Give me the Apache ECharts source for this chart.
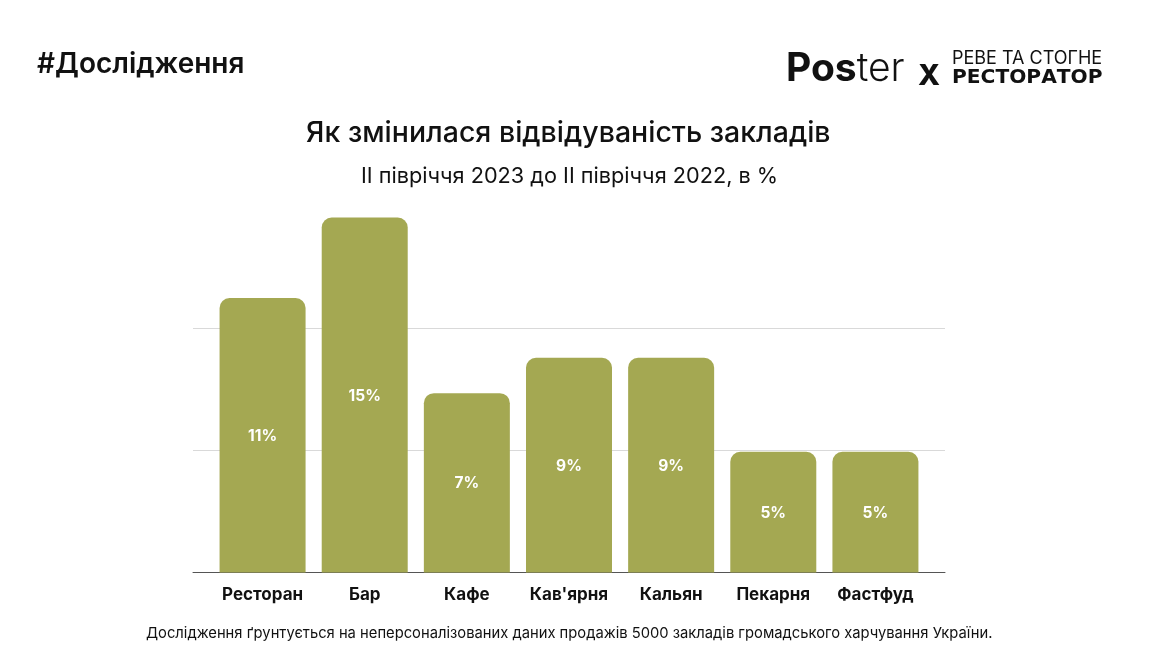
<!DOCTYPE html>
<html>
<head>
<meta charset="utf-8">
<script src="https://cdn.jsdelivr.net/npm/echarts@6/dist/echarts.min.js"></script>
<style>
html, body { margin: 0; padding: 0; background: #fff; }
#chart { width: 1149px; height: 672px; }
</style>
</head>
<body>
<div id="chart"></div>
<script>
var categories = ['Ресторан', 'Бар', 'Кафе', "Кав'ярня", 'Кальян', 'Пекарня', 'Фастфуд'];
var values = [11.25, 14.55, 7.35, 8.8, 8.8, 4.95, 4.95];
var valueLabels = ['11%', '15%', '7%', '9%', '9%', '5%', '5%'];

var font = 'Inter';
var wideFont = 'DejaVu Sans';
var myChart = echarts.init(document.getElementById('chart'));

function textTitle(text, left, top, size, weight, family) {
    return {
        text: text,
        left: left,
        top: top,
        textStyle: { fontFamily: family || font, fontSize: size, fontWeight: weight, color: '#111' }
    };
}

var option = {
    backgroundColor: '#fff',
    animation: false,
    title: [
        textTitle('#Дослідження', 32, 46, 28, 600),
        textTitle('Як змінилася відвідуваність закладів', 301, 114, 28.5, 500),
        textTitle('ІІ півріччя 2023 до ІІ півріччя 2022, в %', 356, 160, 21.7, 400),
        textTitle('Дослідження ґрунтується на неперсоналізованих даних продажів 5000 закладів громадського харчування України.', 141, 621, 14.75, 400),
        {
            text: '{a|Pos}{b|ter}',
            left: 781,
            top: 45,
            textStyle: {
                rich: {
                    a: { fontFamily: font, fontSize: 39, fontWeight: 700, color: '#111' },
                    b: { fontFamily: font, fontSize: 39, fontWeight: 300, color: '#111' }
                }
            }
        },
        textTitle('X', 913, 57, 29, 800),
        textTitle('РЕВЕ ТА СТОГНЕ', 947, 45, 18, 400),
        textTitle('РЕСТОРАТОР', 947, 63, 20.2, 700, wideFont)
    ],
    grid: [
        { left: 193, top: 206.5, width: 752, height: 366 },
        { left: 211.5, top: 206.5, width: 715, height: 366 }
    ],
    xAxis: [
        {
            gridIndex: 0,
            type: 'value',
            min: 0,
            max: 1,
            axisLabel: { show: false },
            axisTick: { show: false },
            splitLine: { show: false },
            axisLine: { show: true, lineStyle: { color: '#555', width: 1 } }
        },
        {
            gridIndex: 1,
            type: 'category',
            data: categories,
            axisLine: { show: false },
            axisTick: { show: false },
            axisLabel: {
                interval: 0,
                margin: 14,
                fontFamily: font,
                fontSize: 17,
                fontWeight: 700,
                color: '#111'
            }
        }
    ],
    yAxis: [
        {
            gridIndex: 0,
            type: 'value',
            min: 0,
            max: 15,
            interval: 5,
            axisLabel: { show: false },
            axisLine: { show: false },
            axisTick: { show: false },
            splitLine: {
                show: true,
                showMinLine: false,
                showMaxLine: false,
                lineStyle: { color: '#d9d9d9', width: 1 }
            }
        },
        {
            gridIndex: 1,
            type: 'value',
            min: 0,
            max: 15,
            interval: 5,
            axisLabel: { show: false },
            axisLine: { show: false },
            axisTick: { show: false },
            splitLine: { show: false }
        }
    ],
    series: [
        {
            type: 'bar',
            xAxisIndex: 1,
            yAxisIndex: 1,
            data: values,
            barWidth: 86,
            itemStyle: { color: '#a4a852', borderRadius: [10, 10, 0, 0] },
            label: {
                show: true,
                position: 'inside',
                offset: [0, 1],
                fontFamily: font,
                fontSize: 15.5,
                fontWeight: 700,
                color: '#fff',
                formatter: function (p) { return valueLabels[p.dataIndex]; }
            }
        }
    ]
};

myChart.setOption(option);
</script>
</body>
</html>
